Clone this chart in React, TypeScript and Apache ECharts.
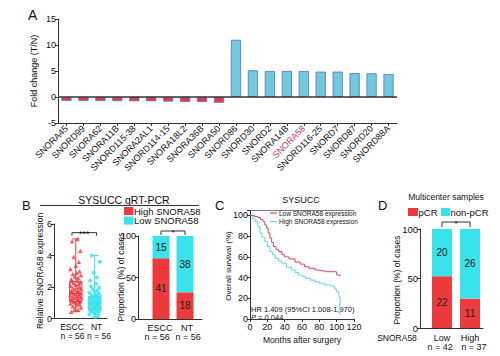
import React, { useEffect, useRef } from 'react';
import * as echarts from 'echarts';

const FONT = 'Arial, "Liberation Sans", Helvetica, sans-serif';
const AX = '#333';
const TXT = '#111';

// ---------- Panel A ----------
const snoCategories = ['SNORA45', 'SNORD99', 'SNORA62', 'SNORA11B', 'SNORD115-38', 'SNORA2AL1', 'SNORD114-15', 'SNORA18L2', 'SNORA36B', 'SNORA50', 'SNORD86', 'SNORD30', 'SNORD2', 'SNORA14B', 'SNORA58', 'SNORD116-25', 'SNORD7', 'SNORD87', 'SNORD20', 'SNORD88A'];
const foldChange = [-0.75, -0.75, -0.78, -0.8, -0.82, -0.83, -0.88, -0.95, -0.97, -1.1, 11, 5.13, 5.0, 5.0, 5.0, 4.87, 4.87, 4.6, 4.55, 4.42];
const highlightName = 'SNORA58';

// ---------- Panel B (box) ----------
const boxGroups = ['ESCC', 'NT'];
const boxN = [56, 56];
const esccBox = [0.43, 1.07, 1.6, 2.34, 5.05];
const ntBox = [0.1, 0.54, 0.97, 1.39, 4.0];
const esccValues = [0.43, 0.55, 0.62, 0.7, 0.78, 0.85, 0.9, 0.95, 1.0, 1.03, 1.06, 1.1, 1.14, 1.18, 1.22, 1.26, 1.3, 1.33, 1.37, 1.4, 1.44, 1.48, 1.52, 1.56, 1.58, 1.62, 1.66, 1.7, 1.74, 1.78, 1.82, 1.87, 1.92, 1.97, 2.02, 2.08, 2.14, 2.2, 2.26, 2.32, 2.36, 2.42, 2.5, 2.58, 2.66, 2.74, 2.82, 2.9, 3.0, 3.15, 3.35, 3.6, 3.9, 4.3, 4.9, 5.05];
const ntValues = [0.1, 0.18, 0.25, 0.3, 0.35, 0.4, 0.44, 0.48, 0.51, 0.54, 0.57, 0.6, 0.63, 0.66, 0.69, 0.72, 0.75, 0.78, 0.81, 0.84, 0.87, 0.9, 0.93, 0.95, 0.97, 0.99, 1.01, 1.04, 1.07, 1.1, 1.13, 1.16, 1.19, 1.22, 1.25, 1.28, 1.31, 1.34, 1.37, 1.4, 1.44, 1.48, 1.53, 1.58, 1.64, 1.7, 1.78, 1.86, 1.95, 2.05, 2.2, 2.4, 2.6, 2.9, 3.6, 4.0];
const jitter = [-0.24, 0.12, -0.05, 0.27, -0.16, 0.05, 0.2, -0.28, 0.0, 0.16, -0.11, 0.24, -0.2, 0.09];

// ---------- Panel B (proportion) ----------
const propGroups = ['ESCC', 'NT'];
const propN = [56, 56];
const highCounts = [41, 18];
const lowCounts = [15, 38];

// ---------- Panel C (KM) ----------
const lowMonths = [0, 5, 9, 12, 15, 17, 19, 21, 23, 25, 27, 30, 33, 37, 40, 45, 52, 58, 63, 68, 75, 82, 87, 93, 98, 100, 104];
const lowSurv = [100, 99, 98, 96, 94, 91, 88, 83, 78, 74, 70, 67, 65, 62, 60, 58, 55, 53, 50.5, 49, 47.3, 46.5, 45.7, 45.7, 45.5, 42.5, 41.5];
const highMonths = [0, 3, 6, 9, 11.5, 14, 17, 20, 23, 26, 29, 33, 36.5, 42, 48, 52, 56, 60, 64, 70, 75, 80, 86, 92, 96, 98, 100, 102.5, 103.8, 104];
const highSurv = [100, 97, 94, 89, 83, 79, 75, 70, 65, 62, 58.6, 56, 54, 50, 47.3, 45, 42.5, 41, 39.3, 37.5, 36, 34.5, 33, 32, 31.2, 29, 26.4, 21.5, 10, 4];

// ---------- Panel D ----------
const dGroups = ['Low', 'High'];
const dN = [42, 37];
const pcrCounts = [22, 11];
const nonPcrCounts = [20, 26];

const RED = '#ec3a3d';
const CYAN = '#3ae2eb';
const A_RED = '#e8393b';
const A_BLUE = '#72c9da';
const KM_RED = '#d34a52';
const KM_CYAN = '#62d6df';

const pct = (c: number[], n: number[]) => c.map((v, i) => (v / n[i]) * 100);

const yAxisCfg = (gridIndex: number, min: number, max: number, interval: number, fs: number) => ({
  type: 'value', gridIndex, min, max, interval, position: 'left',
  axisLine: { show: true, onZero: false, lineStyle: { color: AX, width: 1 } },
  axisTick: { show: true, length: 3, lineStyle: { color: AX } },
  splitLine: { show: false },
  axisLabel: {
    show: true, fontSize: fs, color: TXT, margin: 2, fontFamily: FONT,
    formatter: (v: number) => (v > max - 1e-9 && (max - min) % interval !== 0 ? '' : String(v)),
  },
});

const groupXAxis = (gridIndex: number, min: number, max: number) => ({
  type: 'value', gridIndex, min, max,
  axisLine: { show: true, onZero: false, lineStyle: { color: AX, width: 1 } },
  axisTick: { show: false },
  splitLine: { show: false },
  axisLabel: { show: false },
});

const stackedBarItem = (w: number, color: string, fs: number) => (params: any, api: any) => {
  const x = api.value(0);
  const p0 = api.coord([x, api.value(1)]);
  const p1 = api.coord([x, api.value(2)]);
  const n = api.value(3);
  return {
    type: 'group',
    children: [
      { type: 'rect', shape: { x: p0[0] - w / 2, y: p1[1], width: w, height: p0[1] - p1[1] }, style: { fill: color } },
      {
        type: 'text', x: p0[0], y: (p0[1] + p1[1]) / 2,
        style: { text: String(n), fill: '#222', fontSize: fs, fontFamily: FONT, align: 'center', verticalAlign: 'middle' },
      },
    ],
  };
};

const boxColors = [RED, CYAN];
const boxItem = (params: any, api: any) => {
  const x = api.value(0);
  const c = (d: number) => api.coord([x, api.value(d)]);
  const pMin = c(1), pQ1 = c(2), pMed = c(3), pQ3 = c(4), pMax = c(5);
  const cx = pMin[0];
  const half = 6.2;
  const cap = 3.5;
  const color = boxColors[params.dataIndex];
  const st = { stroke: color, lineWidth: 1, fill: null };
  return {
    type: 'group',
    children: [
      { type: 'rect', shape: { x: cx - half, y: pQ3[1], width: 2 * half, height: pQ1[1] - pQ3[1] }, style: { stroke: color, lineWidth: 1, fill: 'rgba(255,255,255,0)' } },
      { type: 'line', shape: { x1: cx - half, y1: pMed[1], x2: cx + half, y2: pMed[1] }, style: st },
      { type: 'line', shape: { x1: cx, y1: pQ3[1], x2: cx, y2: pMax[1] }, style: st },
      { type: 'line', shape: { x1: cx, y1: pQ1[1], x2: cx, y2: pMin[1] }, style: st },
      { type: 'line', shape: { x1: cx - cap, y1: pMax[1], x2: cx + cap, y2: pMax[1] }, style: st },
      { type: 'line', shape: { x1: cx - cap, y1: pMin[1], x2: cx + cap, y2: pMin[1] }, style: st },
    ],
  };
};

export default function App() {
  const ref = useRef<HTMLDivElement>(null);
  useEffect(() => {
    if (!ref.current) return;
    const chart = echarts.init(ref.current, undefined, { renderer: 'svg' });
    const highPct = pct(highCounts, propN);
    const lowPct = pct(lowCounts, propN);
    const pcrPct = pct(pcrCounts, dN);
    const nonPct = pct(nonPcrCounts, dN);

    const gridBase = { containLabel: false, outerBoundsMode: 'none' };
    const option: any = {
      animation: false,
      textStyle: { fontFamily: FONT },
      grid: [
        { ...gridBase, left: 58, top: 19, width: 339, height: 104 },
        { ...gridBase, left: 54, top: 224, width: 53, height: 94.5 },
        { ...gridBase, left: 138, top: 236, width: 64, height: 83 },
        { ...gridBase, left: 250, top: 210.3, width: 104, height: 108.7 },
        { ...gridBase, left: 420, top: 229, width: 63, height: 99 },
      ],
      xAxis: [
        {
          type: 'category', gridIndex: 0, data: snoCategories, position: 'bottom',
          axisLine: { show: true, onZero: false, lineStyle: { color: AX } },
          axisTick: { show: true, alignWithLabel: true, length: 3, lineStyle: { color: AX } },
          axisLabel: {
            rotate: 45, interval: 0, fontSize: 9, color: TXT, margin: 4, fontFamily: FONT,
            formatter: (v: string) => (v === highlightName ? `{hl|${v}}` : v),
            rich: { hl: { color: '#c9395f', fontSize: 9, fontFamily: FONT } },
          },
        },
        groupXAxis(1, -0.15, 2.65),
        groupXAxis(2, 0.042, 2.708),
        {
          type: 'value', gridIndex: 3, min: 0, max: 120, interval: 20, position: 'bottom',
          axisLine: { show: true, onZero: false, lineStyle: { color: AX } },
          axisTick: { show: true, length: 3, lineStyle: { color: AX } },
          splitLine: { show: false },
          axisLabel: { fontSize: 9, color: TXT, margin: 3, fontFamily: FONT, formatter: (v: number) => String(v) },
        },
        groupXAxis(4, 0.214, 2.464),
        {
          type: 'value', gridIndex: 3, position: 'top', min: 0, max: 120,
          axisLine: { show: true, onZero: false, lineStyle: { color: '#555', width: 0.8 } },
          axisTick: { show: false }, axisLabel: { show: false }, splitLine: { show: false },
        },
      ],
      yAxis: [
        yAxisCfg(0, -5, 15, 5, 9),
        yAxisCfg(1, 0, 6, 2, 9),
        yAxisCfg(2, 0, 100, 50, 9),
        yAxisCfg(3, 0, 105, 20, 9),
        yAxisCfg(4, 0, 100, 50, 9.5),
      ],
      series: [
        {
          type: 'bar', xAxisIndex: 0, yAxisIndex: 0, data: foldChange, barWidth: '60%',
          itemStyle: {
            color: (p: any) => (p.value < 0 ? A_RED : A_BLUE),
            borderColor: (p: any) => (p.value < 0 ? '#f28b8b' : '#a6dde8'),
            borderWidth: 0.8,
          },
          markLine: {
            silent: true, symbol: 'none', label: { show: false },
            lineStyle: { color: '#333', width: 1.6, type: 'solid' },
            data: [{ yAxis: 0 }],
          },
        },
        {
          type: 'custom', xAxisIndex: 1, yAxisIndex: 1, renderItem: boxItem,
          encode: { x: 0, y: [1, 2, 3, 4, 5] },
          data: [[1, ...esccBox], [2, ...ntBox]],
          z: 2,
        },
        {
          type: 'scatter', xAxisIndex: 1, yAxisIndex: 1, symbol: 'triangle', symbolSize: 4.5,
          itemStyle: { color: RED }, z: 3,
          data: esccValues.map((v, i) => [1 + jitter[i % jitter.length], v]),
        },
        {
          type: 'scatter', xAxisIndex: 1, yAxisIndex: 1, symbol: 'circle', symbolSize: 4,
          itemStyle: { color: CYAN }, z: 3,
          data: ntValues.map((v, i) => [2 + jitter[(i + 5) % jitter.length], v]),
        },
        {
          name: 'High SNORA58', type: 'custom', xAxisIndex: 2, yAxisIndex: 2, itemStyle: { color: RED },
          renderItem: stackedBarItem(17, RED, 10), encode: { x: 0, y: [1, 2] },
          data: highPct.map((v, i) => [i + 1, 0, v, highCounts[i]]),
        },
        {
          name: 'Low SNORA58', type: 'custom', xAxisIndex: 2, yAxisIndex: 2, itemStyle: { color: CYAN },
          renderItem: stackedBarItem(17, CYAN, 10), encode: { x: 0, y: [1, 2] },
          data: lowPct.map((v, i) => [i + 1, highPct[i], highPct[i] + v, lowCounts[i]]),
        },
        {
          name: 'Low SNORA58 expression', type: 'line', xAxisIndex: 3, yAxisIndex: 3, step: 'end', showSymbol: false,
          lineStyle: { color: KM_RED, width: 1 }, itemStyle: { color: KM_RED },
          data: lowMonths.map((m, i) => [m, lowSurv[i]]), z: 3,
        },
        {
          name: 'High SNORA58 expression', type: 'line', xAxisIndex: 3, yAxisIndex: 3, step: 'end', showSymbol: false,
          lineStyle: { color: KM_CYAN, width: 1 }, itemStyle: { color: KM_CYAN },
          data: highMonths.map((m, i) => [m, highSurv[i]]), z: 2,
        },
        {
          name: 'pCR', type: 'custom', xAxisIndex: 4, yAxisIndex: 4, itemStyle: { color: RED },
          renderItem: stackedBarItem(20, RED, 10), encode: { x: 0, y: [1, 2] },
          data: pcrPct.map((v, i) => [i + 1, 0, v, pcrCounts[i]]),
        },
        {
          name: 'non-pCR', type: 'custom', xAxisIndex: 4, yAxisIndex: 4, itemStyle: { color: CYAN },
          renderItem: stackedBarItem(20, CYAN, 10), encode: { x: 0, y: [1, 2] },
          data: nonPct.map((v, i) => [i + 1, pcrPct[i], pcrPct[i] + v, nonPcrCounts[i]]),
        },
      ],
    };
    chart.setOption(option);

    const txt = (text: string, x: number, y: number, fs: number, align = 'left', extra: any = {}) => ({
      type: 'text', x, y, silent: true,
      style: { text, fontSize: fs, fill: TXT, fontFamily: FONT, align, verticalAlign: 'middle', legacy: false, ...extra },
    });
    const vtxt = (text: string, x: number, y: number, fs: number) => ({
      type: 'text', x, y, rotation: Math.PI / 2, silent: true,
      style: { text, fontSize: fs, fill: TXT, fontFamily: FONT, align: 'center', verticalAlign: 'middle', legacy: false },
    });
    const px = (gi: number, x: number, y: number) => chart.convertToPixel({ gridIndex: gi } as any, [x, y]) as number[];

    const bracket = (gi: number, x1: number, x2: number, yv: number, dy: number, tick: number, label: string, fs: number) => {
      const p1 = px(gi, x1, yv);
      const p2 = px(gi, x2, yv);
      const y = p1[1] - dy;
      return [
        { type: 'polyline', silent: true, shape: { points: [[p1[0], y + tick], [p1[0], y], [p2[0], y], [p2[0], y + tick]] }, style: { stroke: '#333', lineWidth: 1, fill: null } },
        txt(label, (p1[0] + p2[0]) / 2, y + 1.5, fs, 'center'),
      ];
    };
    const groupLabels = (gi: number, names: string[], ns: number[], nameX: number[], nX: number[], dy1: number, dy2: number, fs: number) => {
      const out: any[] = [];
      names.forEach((g, i) => {
        const p = px(gi, nameX[i], 0);
        const q = px(gi, nX[i], 0);
        out.push(txt(g, p[0], p[1] + dy1, fs, 'center'));
        out.push(txt(`n = ${ns[i]}`, q[0], q[1] + dy2, fs, 'center'));
      });
      return out;
    };

    const graphic: any[] = [
      txt('A', 28, 15, 14),
      txt('B', 22, 205, 13),
      txt('C', 215, 205, 13),
      txt('D', 378, 205, 13),
      txt('SYSUCC qRT-PCR', 124, 200, 10.5, 'center'),
      { type: 'line', silent: true, shape: { x1: 40, y1: 205.5, x2: 199, y2: 205.5 }, style: { stroke: '#333', lineWidth: 1 } },
      txt('SYSUCC', 301, 200, 9, 'center'),
      txt('Multicenter samples', 446, 197, 8.5, 'center'),
      vtxt('Fold change (T/N)', 34, 71, 9),
      vtxt('Relative SNORA58 expression', 40, 271, 8.5),
      vtxt('Proportion (%) of cases', 121, 277, 8.5),
      vtxt('Overall survival (%)', 228, 266, 8),
      vtxt('Proportion (%) of cases', 397, 280, 8.5),
      txt('Months after surgery', 302, 340, 8.5, 'center'),
      { type: 'rect', silent: true, shape: { x: 124, y: 207, width: 9.5, height: 8 }, style: { fill: RED } },
      txt('High SNORA58', 134, 211, 9.5),
      { type: 'rect', silent: true, shape: { x: 124, y: 216.5, width: 9.5, height: 8 }, style: { fill: CYAN } },
      txt('Low SNORA58', 134, 220.5, 9.5),
      { type: 'line', silent: true, shape: { x1: 270, y1: 213, x2: 277, y2: 213 }, style: { stroke: KM_RED, lineWidth: 1.2 } },
      txt('Low SNORA58 expression', 279, 213, 6.5),
      { type: 'line', silent: true, shape: { x1: 270, y1: 221.5, x2: 277, y2: 221.5 }, style: { stroke: KM_CYAN, lineWidth: 1.2 } },
      txt('High SNORA58 expression', 279, 221.5, 6.5),
      { type: 'rect', silent: true, shape: { x: 408, y: 208, width: 10, height: 8 }, style: { fill: RED } },
      txt('pCR', 418.5, 212, 9.5),
      { type: 'rect', silent: true, shape: { x: 441, y: 208, width: 9, height: 8 }, style: { fill: CYAN } },
      txt('non-pCR', 450.5, 212, 9.5),
      txt('HR 1.409 (95%CI 1.008-1,970)', 251, 309.8, 7.5, 'left', { lineHeight: 7.5 }),
      {
        type: 'text', x: 251, y: 317.6, silent: true,
        style: {
          text: '{i|P} = 0.044', fontSize: 7.5, lineHeight: 7.5, fill: TXT, fontFamily: FONT, verticalAlign: 'middle', legacy: false,
          rich: { i: { fontStyle: 'italic', fontSize: 7.5, lineHeight: 7.5, fontFamily: FONT } },
        },
      },
      txt('SNORA58', 397, 338, 8.5, 'center'),
      ...groupLabels(1, boxGroups, boxN, [0.8, 2.1], [0.83, 2.23], 8.5, 17.5, 8.5),
      ...groupLabels(2, propGroups, propN, [0.96, 2.08], [0.84, 2.13], 8.5, 17.5, 9),
      ...groupLabels(4, dGroups, dN, [1, 2], [0.93, 2.14], 9.5, 18.8, 9),
      ...bracket(1, 0.8, 2.1, 5.45, 0, 3, '***', 9),
      ...bracket(2, 1, 2, 100, 5, 4, '*', 8),
      ...bracket(4, 1, 2, 100, 7, 5, '*', 8),
    ];
    chart.setOption({ graphic });

    return () => chart.dispose();
  }, []);
  return <div ref={ref} style={{ position: 'fixed', left: 0, top: 0, width: 500, height: 356, background: '#fff' }} />;
}
